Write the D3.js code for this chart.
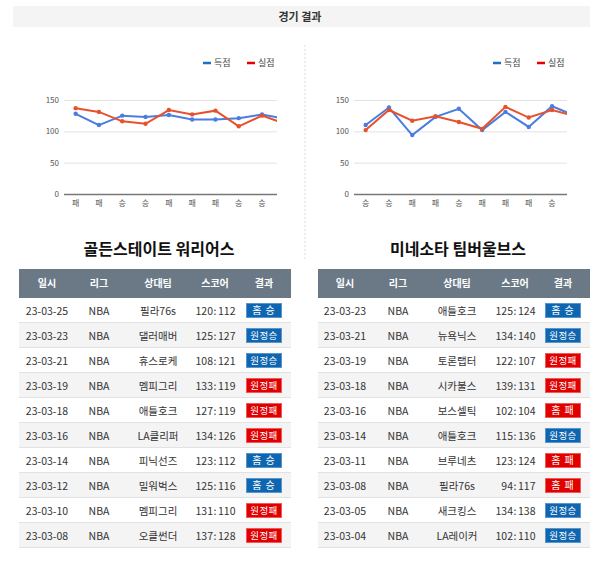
<!DOCTYPE html>
<html>
<head>
<meta charset="utf-8">
<script src="https://cdn.jsdelivr.net/npm/d3@7"></script>
<style>
body { margin:0; background:#fff; font-family:"Noto Sans CJK KR","Noto Sans",sans-serif; }
svg text { font-family:"Noto Sans CJK KR","Noto Sans",sans-serif; }
</style>
</head>
<body>
<svg id="chart" width="600" height="563"></svg>
<script>
// chart series, oldest game first
var gswScored   = [128, 110, 125, 123, 126, 119, 119, 121, 127, 120];
var gswAllowed  = [137, 131, 116, 112, 134, 127, 133, 108, 125, 112];
var gswOutcome  = ['패','패','승','승','패','패','패','승','승','승'];
var minScored   = [110, 138, 94, 123, 136, 102, 131, 107, 140, 125];
var minAllowed  = [102, 134, 117, 124, 115, 104, 139, 122, 134, 124];
var minOutcome  = ['승','승','패','패','승','패','패','패','승','승'];
var yTicks = [0, 50, 100, 150];
var legendNames = ['득점', '실점'];

// tables, newest game first
var tableHead = ['일시', '리그', '상대팀', '스코어', '결과'];
var gswDates  = ['23-03-25','23-03-23','23-03-21','23-03-19','23-03-18','23-03-16','23-03-14','23-03-12','23-03-10','23-03-08'];
var gswOpp    = ['필라76s','댈러매버','휴스로케','멤피그리','애틀호크','LA클리퍼','피닉선즈','밀워벅스','멤피그리','오클썬더'];
var gswScores = ['120:112','125:127','108:121','133:119','127:119','134:126','123:112','125:116','131:110','137:128'];
var gswResult = ['홈승','원정승','원정승','원정패','원정패','원정패','홈승','홈승','원정패','원정패'];
var minDates  = ['23-03-23','23-03-21','23-03-19','23-03-18','23-03-16','23-03-14','23-03-11','23-03-08','23-03-05','23-03-04'];
var minOpp    = ['애틀호크','뉴욕닉스','토론랩터','시카불스','보스셀틱','애틀호크','브루네츠','필라76s','새크킹스','LA레이커'];
var minScores = ['125:124','134:140','122:107','139:131','102:104','115:136','123:124','94:117','134:138','102:110'];
var minResult = ['홈승','원정승','원정패','원정패','홈패','원정승','홈패','홈패','원정승','원정승'];

var svg = d3.select('#chart');

// title bar
svg.append('rect').attr('x',13).attr('y',6).attr('width',577).attr('height',21).attr('fill','#f4f4f4');
svg.append('text').attr('x',300).attr('y',20.5).attr('text-anchor','middle')
    .attr('font-size',11).attr('font-weight','bold').attr('fill','#333').text('경기 결과');

// dotted separator
svg.append('line').attr('x1',305).attr('x2',305).attr('y1',45).attr('y2',260)
    .attr('stroke','#ececec').attr('stroke-width',2).attr('stroke-dasharray','2,2');

function lineChart(id, left, clipRight, legendX, scored, allowed, outcome){
    var g = svg.append('g');
    var yScale = d3.scaleLinear().domain([0,150]).range([194,100]);
    var xScale = d3.scaleBand().domain(d3.range(scored.length)).range([left, left + 23.3*scored.length]);

    g.selectAll('line.grid').data(yTicks).enter().append('line')
        .attr('x1',left).attr('x2',clipRight)
        .attr('y1',function(d){ return yScale(d)+0.5; })
        .attr('y2',function(d){ return yScale(d)+0.5; })
        .attr('stroke',function(d){ return d==0 ? '#777' : '#e2e2e2'; })
        .attr('stroke-width',function(d){ return d==0 ? 1.5 : 1; });

    g.selectAll('text.ylab').data(yTicks).enter().append('text')
        .attr('x',left-5).attr('y',function(d){ return yScale(d)+3; })
        .attr('text-anchor','end').attr('font-size',8).attr('fill','#555')
        .text(function(d){ return d; });

    g.selectAll('text.xlab').data(outcome).enter().append('text')
        .attr('x',function(d,i){ return xScale(i)+xScale.bandwidth()/2; })
        .attr('y',206).attr('text-anchor','middle').attr('font-size',8).attr('fill','#555')
        .text(function(d){ return d; })
        .filter(function(d,i){ return xScale(i)+xScale.bandwidth()/2 > clipRight; }).remove();

    svg.append('clipPath').attr('id',id).append('rect')
        .attr('x',left).attr('y',80).attr('width',clipRight-left).attr('height',120);

    var plot = g.append('g').attr('clip-path','url(#'+id+')');
    var series = [
        {values:scored, colour:'#4a7de0'},
        {values:allowed, colour:'#e8512d'}
    ];
    var line = d3.line()
        .x(function(d,i){ return xScale(i)+xScale.bandwidth()/2; })
        .y(function(d){ return yScale(d); });
    series.forEach(function(s){
        plot.append('path').attr('d',line(s.values)).attr('fill','none')
            .attr('stroke',s.colour).attr('stroke-width',2);
        plot.selectAll(null).data(s.values).enter().append('circle')
            .attr('r',2.2)
            .attr('cx',function(d,i){ return xScale(i)+xScale.bandwidth()/2; })
            .attr('cy',function(d){ return yScale(d); })
            .attr('fill',s.colour);
    });

    // legend
    var legendColours = ['#1e6fc6','#e80000'];
    legendNames.forEach(function(name,i){
        var lx = legendX + i*44;
        g.append('line').attr('x1',lx).attr('x2',lx+8).attr('y1',63).attr('y2',63)
            .attr('stroke',legendColours[i]).attr('stroke-width',2.5);
        g.append('text').attr('x',lx+11).attr('y',66).attr('font-size',9).attr('fill','#444').text(name);
    });
}

lineChart('clipL', 64, 277, 203, gswScored, gswAllowed, gswOutcome);
lineChart('clipR', 354, 567, 493, minScored, minAllowed, minOutcome);

function table(title, x0, x1, cols, dates, opp, scores, result){
    var g = svg.append('g');
    var top = 269, headH = 29, rowH = 25;
    g.append('text').attr('x',(x0+x1)/2+4).attr('y',255).attr('text-anchor','middle')
        .attr('font-size',16).attr('font-weight','bold').attr('fill','#111').text(title);
    g.append('rect').attr('x',x0).attr('y',top).attr('width',x1-x0).attr('height',headH).attr('fill','#6b7986');
    g.selectAll('text.head').data(tableHead).enter().append('text')
        .attr('x',function(d,i){ return cols[i]; }).attr('y',top+18)
        .attr('text-anchor','middle').attr('font-size',10).attr('font-weight','bold').attr('fill','#fff')
        .text(function(d){ return d; });

    var rows = g.selectAll('g.row').data(dates).enter().append('g')
        .attr('transform',function(d,i){ return 'translate(0,'+(top+headH+i*rowH)+')'; });
    rows.append('rect').attr('x',x0).attr('width',x1-x0).attr('height',rowH)
        .attr('fill',function(d,i){ return i%2 ? '#f4f4f4' : '#fff'; });
    rows.append('line').attr('x1',x0).attr('x2',x1).attr('y1',rowH-0.5).attr('y2',rowH-0.5)
        .attr('stroke','#e2e2e2');
    rows.each(function(d,i){
        var r = d3.select(this);
        var cells = [d, 'NBA', opp[i]];
        cells.forEach(function(c,j){
            r.append('text').attr('x',cols[j]).attr('y',16.5).attr('text-anchor','middle')
                .attr('font-size',10.5).attr('fill','#333').text(c);
        });
        var parts = scores[i].split(':');
        r.append('text').attr('x',cols[3]-2).attr('y',16.5).attr('text-anchor','end')
            .attr('font-size',10.5).attr('fill','#333').text(parts[0]);
        r.append('text').attr('x',cols[3]).attr('y',16.5).attr('text-anchor','middle')
            .attr('font-size',10.5).attr('fill','#333').text(':');
        r.append('text').attr('x',cols[3]+3).attr('y',16.5).attr('text-anchor','start')
            .attr('font-size',10.5).attr('fill','#333').text(parts[1]);
        var win = result[i].slice(-1) == '승';
        r.append('rect').attr('x',cols[4]-17.5).attr('y',5.5).attr('width',35).attr('height',14)
            .attr('fill',win ? '#0f66b0' : '#e00000')
            .attr('stroke',win ? '#5a95cc' : '#f05a5a').attr('stroke-width',1);
        var short = result[i].length == 2;
        r.append('text').attr('x',cols[4]).attr('y',16).attr('text-anchor','middle')
            .attr('font-size',short ? 10 : 9.5).attr('fill','#fff').attr('letter-spacing',short ? 1 : 0.4)
            .text(short ? result[i][0]+' '+result[i][1] : result[i]);
    });
}

table('골든스테이트 워리어스', 19, 291, [47, 99, 158, 215, 264], gswDates, gswOpp, gswScores, gswResult);
table('미네소타 팀버울브스', 318, 590, [345, 398, 457, 515, 563], minDates, minOpp, minScores, minResult);
</script>
</body>
</html>
